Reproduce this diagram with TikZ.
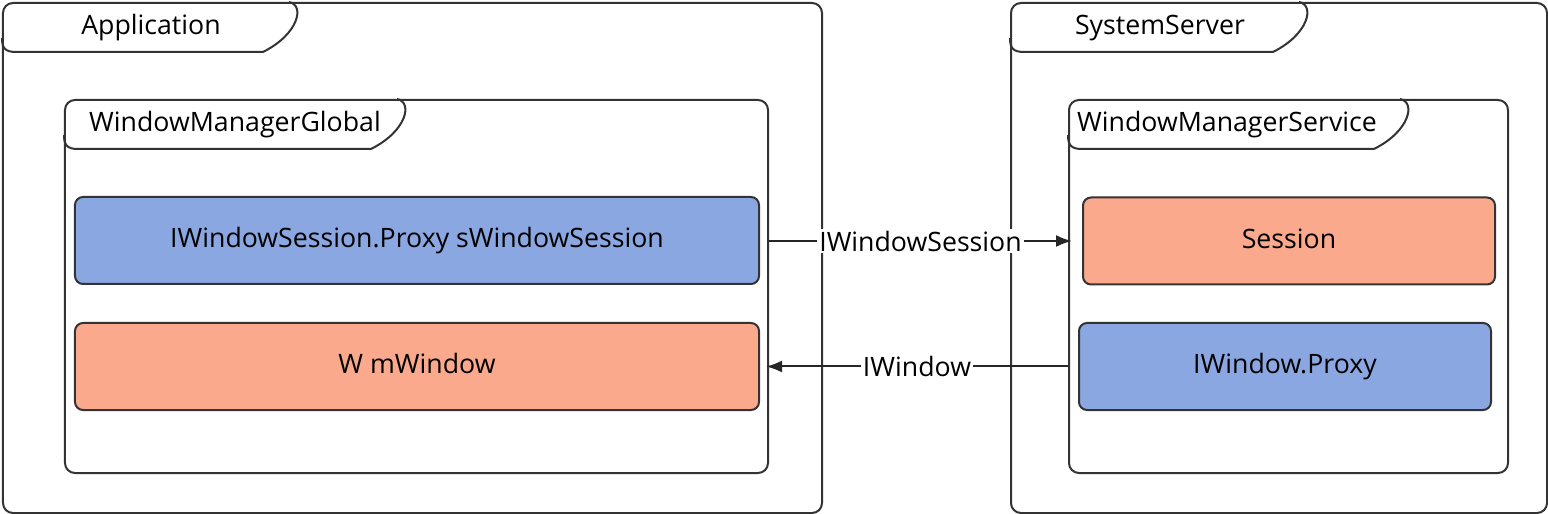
\documentclass[tikz,border=0pt]{standalone}
\usepackage{fontspec}
\setmainfont{Open Sans}
\usetikzlibrary{arrows.meta,positioning,calc}
\definecolor{boxblue}{HTML}{8BA7E1}
\definecolor{boxorange}{HTML}{FBA98D}
\definecolor{linegray}{HTML}{333333}

\begin{document}
\begin{tikzpicture}[
    x=0.5bp, y=-0.5bp,
    >={Latex[length=8bp,width=6bp]},
    every node/.style={font=\fontsize{13.4}{16}\selectfont, text=black},
    frame/.style={draw=linegray, line width=1bp, rounded corners=5bp, inner sep=0pt},
    tabline/.style={draw=linegray, line width=1bp},
    title/.style={text height=0.72em, text depth=0pt, inner sep=0pt},
    member/.style={draw=linegray, line width=1bp, rounded corners=4bp,
      minimum width=342bp, minimum height=43.5bp, inner sep=0pt,
      text height=0.72em, text depth=0pt},
    svcmember/.style={member, minimum width=206bp},
    conn/.style={->, draw=black!85, line width=1bp},
    lbl/.style={fill=white, inner sep=1bp}
    ]

    \useasboundingbox (0,0) rectangle (1548,514);

    % processes
    \node[frame, minimum width=409.5bp, minimum height=255bp] (app) at (412.5,258) {};
    \node[frame, minimum width=268bp, minimum height=255bp] (sys) at (1279,258) {};

    % inner classes
    \node[frame, minimum width=351.5bp, minimum height=186.5bp] (wmg) at (416.5,286.5) {};
    \node[frame, minimum width=219.5bp, minimum height=186.5bp] (wms) at (1288.5,286.5) {};

    % tabs
    \foreach \fr/\w/\lx/\txt in {app/297/149/Application,
        sys/299/150/SystemServer,
        wmg/343/171/WindowManagerGlobal,
        wms/342/159/WindowManagerService}{
      \draw[tabline]
        ($(\fr.north west)+(\w-10,0)$)
        .. controls ($(\fr.north west)+(\w+6,3)$) and ($(\fr.north west)+(\w,32)$)
        .. ($(\fr.north west)+(\w-36,50)$)
        -- ($(\fr.north west)+(14,50)$)
        .. controls ($(\fr.north west)+(3,50)$) and ($(\fr.north west)+(0,46)$)
        .. ($(\fr.north west)+(0,36)$);
      \node[title] (\fr-title) at ($(\fr.north west)+(\lx,25)$) {\txt};
    }

    \node[member, fill=boxblue] (proxy) at (417,240.5)
    {IWindowSession.Proxy sWindowSession};
    \node[member, fill=boxorange] (mwin) at (417,366.5)
    {W mWindow};

    \node[svcmember, fill=boxorange] (sess) at (1289,241)
    {Session};
    \node[svcmember, fill=boxblue] (iwp) at (1285,366.5)
    {IWindow.Proxy};

    \draw[conn] (wmg.east |- sess.west) -- ([xshift=-5bp]sess.west)
    node[midway, lbl] (sesslbl) {IWindowSession};

    \draw[conn] (wms.west |- iwp.west) -- ([xshift=3bp]mwin.east)
    node[midway, lbl] (winlbl) {IWindow};

\end{tikzpicture}
\end{document}
